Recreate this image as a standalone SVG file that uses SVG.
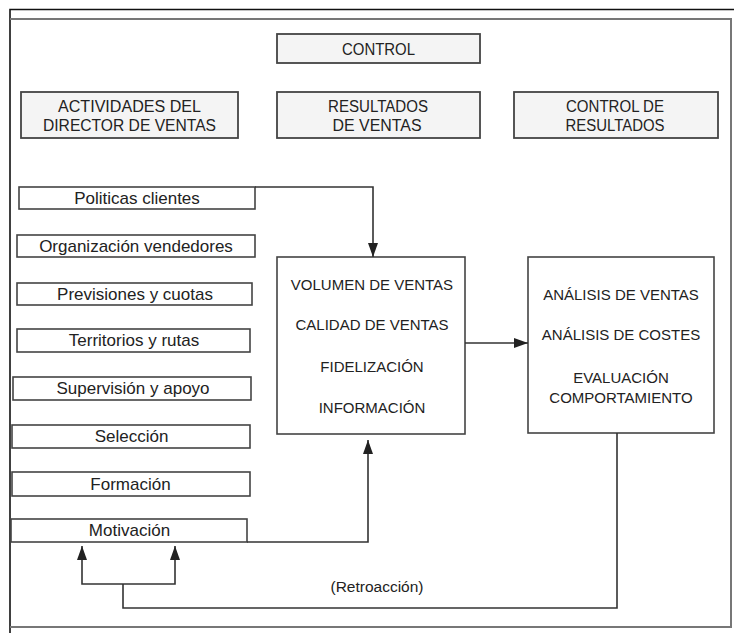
<svg xmlns="http://www.w3.org/2000/svg" width="734" height="633" viewBox="0 0 734 633">
<defs>
<marker id="ah" viewBox="0 0 14 10" refX="14" refY="5" markerWidth="14" markerHeight="10" markerUnits="userSpaceOnUse" orient="auto">
<path d="M0,0 L14,5 L0,10 Z" fill="#222"/>
</marker>
<style>
.box{fill:#ffffff;stroke:#444;stroke-width:1.6}
.hbox{fill:#f4f4f4;stroke:#444;stroke-width:1.8}
.t{font-family:"Liberation Sans",Arial,sans-serif;fill:#222;text-anchor:middle}
.h{font-size:16px}
.s{font-size:17px}
.c{font-size:15px}
.con{fill:none;stroke:#333;stroke-width:1.6}
</style>
</defs>
<rect x="0" y="0" width="734" height="633" fill="#ffffff"/>
<g id="frame">
<path d="M10,633 V9.5 H734" fill="none" stroke="#111" stroke-width="1.6"/>
<path d="M10,19 H731 V627 H10" fill="none" stroke="#777" stroke-width="2"/>
</g>
<g id="control">
<rect class="hbox" x="277" y="34" width="203" height="29"/>
<text class="t h" x="378.5" y="55" textLength="73" lengthAdjust="spacingAndGlyphs">CONTROL</text>
</g>
<g id="actividades">
<rect class="hbox" x="21" y="92" width="217" height="46"/>
<text class="t h" x="129.5" y="112" textLength="143" lengthAdjust="spacingAndGlyphs">ACTIVIDADES DEL</text>
<text class="t h" x="129.5" y="131" textLength="173" lengthAdjust="spacingAndGlyphs">DIRECTOR DE VENTAS</text>
</g>
<g id="resultados">
<rect class="hbox" x="277" y="92" width="203" height="46"/>
<text class="t h" x="378" y="112" textLength="100" lengthAdjust="spacingAndGlyphs">RESULTADOS</text>
<text class="t h" x="377" y="131" textLength="89" lengthAdjust="spacingAndGlyphs">DE VENTAS</text>
</g>
<g id="control-resultados">
<rect class="hbox" x="514" y="92" width="204" height="46"/>
<text class="t h" x="615" y="112" textLength="98" lengthAdjust="spacingAndGlyphs">CONTROL DE</text>
<text class="t h" x="615" y="131" textLength="99" lengthAdjust="spacingAndGlyphs">RESULTADOS</text>
</g>
<g id="politicas">
<rect class="box" x="19" y="187" width="236" height="22"/>
<text class="t s" x="137" y="204">Politicas clientes</text>
</g>
<g id="organizacion">
<rect class="box" x="17" y="235" width="238" height="22"/>
<text class="t s" x="136" y="252">Organización vendedores</text>
</g>
<g id="previsiones">
<rect class="box" x="17" y="283" width="235" height="22"/>
<text class="t s" x="135" y="300">Previsiones y cuotas</text>
</g>
<g id="territorios">
<rect class="box" x="17" y="329" width="233" height="23"/>
<text class="t s" x="134" y="346">Territorios y rutas</text>
</g>
<g id="supervision">
<rect class="box" x="13" y="377" width="238" height="23"/>
<text class="t s" x="133" y="394">Supervisión y apoyo</text>
</g>
<g id="seleccion">
<rect class="box" x="12" y="425" width="238" height="23"/>
<text class="t s" x="131.5" y="442">Selección</text>
</g>
<g id="formacion">
<rect class="box" x="12" y="472" width="238" height="24"/>
<text class="t s" x="130.5" y="490">Formación</text>
</g>
<g id="motivacion">
<rect class="box" x="11" y="519" width="236" height="23"/>
<text class="t s" x="129.5" y="536">Motivación</text>
</g>
<g id="resultados-ventas">
<rect class="box" x="277" y="257" width="188" height="177"/>
<text class="t c" x="372" y="290">VOLUMEN DE VENTAS</text>
<text class="t c" x="372" y="330">CALIDAD DE VENTAS</text>
<text class="t c" x="372" y="372">FIDELIZACIÓN</text>
<text class="t c" x="372" y="413">INFORMACIÓN</text>
</g>
<g id="control-analisis">
<rect class="box" x="528" y="257" width="186" height="176"/>
<text class="t c" x="621" y="300">ANÁLISIS DE VENTAS</text>
<text class="t c" x="621" y="340">ANÁLISIS DE COSTES</text>
<text class="t c" x="621" y="383">EVALUACIÓN</text>
<text class="t c" x="621" y="403">COMPORTAMIENTO</text>
</g>
<g id="connectors">
<path class="con" d="M255,187 H373 V257" marker-end="url(#ah)"/>
<path class="con" d="M465,343 H528" marker-end="url(#ah)"/>
<path class="con" d="M247,542 H368 V440" marker-end="url(#ah)"/>
<path class="con" d="M617,433 V608 H123 V584"/>
<path class="con" d="M123,584 H82 V546" marker-end="url(#ah)"/>
<path class="con" d="M123,584 H175 V546" marker-end="url(#ah)"/>
</g>
<g id="retroaccion">
<text class="t" style="font-size:15.5px" x="377" y="592">(Retroacción)</text>
</g>
</svg>
